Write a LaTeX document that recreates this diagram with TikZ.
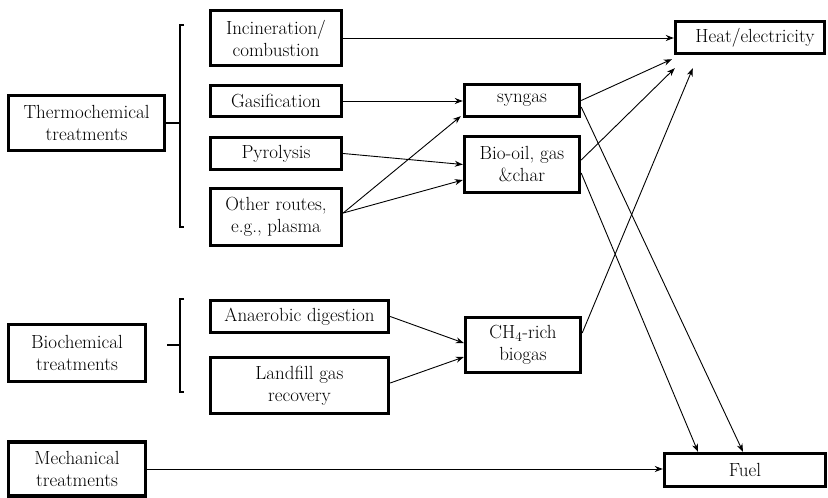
\documentclass[tikz,border=0pt]{standalone}
\usepackage{fontspec}
\usetikzlibrary{arrows.meta}
\begin{document}
\begin{tikzpicture}[x=1pt,y=-1pt,
  box/.style={draw=black,line width=3.4pt,align=center,inner sep=0pt,
    font=\fontsize{19}{22}\selectfont,text=black},
  flow/.style={line width=0.9pt,-{Stealth[length=8pt,width=6pt]}},
  brace/.style={line width=1.5pt}]
\useasboundingbox (0,0) rectangle (828,498);

% treatment categories
\node[box,minimum width=156pt,minimum height=55pt] (thermo) at (86.5,123) {Thermochemical\\treatments};
\node[box,minimum width=137pt,minimum height=57pt] (biochem) at (77,353) {Biochemical\\treatments};
\node[box,minimum width=137pt,minimum height=54pt] (mech) at (77,469) {Mechanical\\treatments};

% processes
\node[box,minimum width=131pt,minimum height=55pt] (incin) at (276,38) {Incineration/\\combustion};
\node[box,minimum width=131pt,minimum height=31pt] (gasif) at (276,101) {Gasification};
\node[box,minimum width=131pt,minimum height=32pt] (pyro) at (276,153.5) {Pyrolysis};
\node[box,minimum width=131pt,minimum height=57pt] (other) at (276,217) {Other routes,\\e.g., plasma};
\node[box,minimum width=178pt,minimum height=32pt] (anaer) at (299.5,316.5) {Anaerobic digestion};
\node[box,minimum width=178pt,minimum height=56pt] (landfill) at (299.5,385.5) {Landfill gas\\recovery};

% intermediates
\node[box,minimum width=115pt,minimum height=32pt] (syngas) at (522,100.5) {syngas};
\node[box,minimum width=115pt,minimum height=56pt] (biooil) at (522,164.5) {Bio-oil, gas\\\&char};
\node[box,minimum width=115pt,minimum height=55pt] (ch4) at (523,345) {CH\textsubscript{4}-rich\\biogas};

% products
\node[box,minimum width=149pt,minimum height=32pt] (heat) at (750,37.5) {\hspace*{10pt}Heat/electricity};
\node[box,minimum width=161pt,minimum height=33pt] (fuel) at (745,470) {Fuel};

% grouping brackets
\coordinate (tb1) at (184,25);
\coordinate (tb2) at (180,25);
\coordinate (tb3) at (180,227);
\coordinate (tb4) at (184,227);
\coordinate (tbm) at (180,123);
\draw[brace] (tb1) -- (tb2) -- (tb3) -- (tb4);
\draw[brace] (thermo.east) -- (tbm);

\coordinate (bb1) at (184,299);
\coordinate (bb2) at (180,299);
\coordinate (bb3) at (180,392);
\coordinate (bb4) at (184,392);
\coordinate (bbm) at (180,345);
\coordinate (bbs) at (167,345);
\draw[brace] (bb1) -- (bb2) -- (bb3) -- (bb4);
\draw[brace] (bbs) -- (bbm);

% flows
\draw[flow] (incin.east) -- (incin.east -| heat.west);
\draw[flow] (gasif.east) -- (gasif.east -| syngas.west);
\draw[flow] (pyro.east) -- (biooil.west);
\draw[flow] ([yshift=4pt]other.east) -- ([shift={(-2pt,2pt)}]syngas.south west);
\draw[flow] ([yshift=4pt]other.east) -- ([yshift=-15.5pt]biooil.west);

\draw[flow] (syngas.east) -- ([shift={(-2pt,-4pt)}]heat.south west);
\draw[flow] ([yshift=4.5pt]biooil.east) -- ([shift={(1pt,-13pt)}]heat.south west);
\draw[flow] ([yshift=12pt]ch4.east) -- ([shift={(19pt,-13pt)}]heat.south west);

\draw[flow] ([yshift=-6.5pt]syngas.east) -- ([xshift=-2pt]fuel.north);
\draw[flow] ([yshift=-8.5pt]biooil.east) -- ([xshift=-47pt]fuel.north);

\draw[flow] (anaer.east) -- ([yshift=2pt]ch4.west);
\draw[flow] ([yshift=2.5pt]landfill.east) -- ([yshift=-12pt]ch4.west);

\draw[flow] (mech.east) -- (mech.east -| fuel.west);
\end{tikzpicture}
\end{document}
